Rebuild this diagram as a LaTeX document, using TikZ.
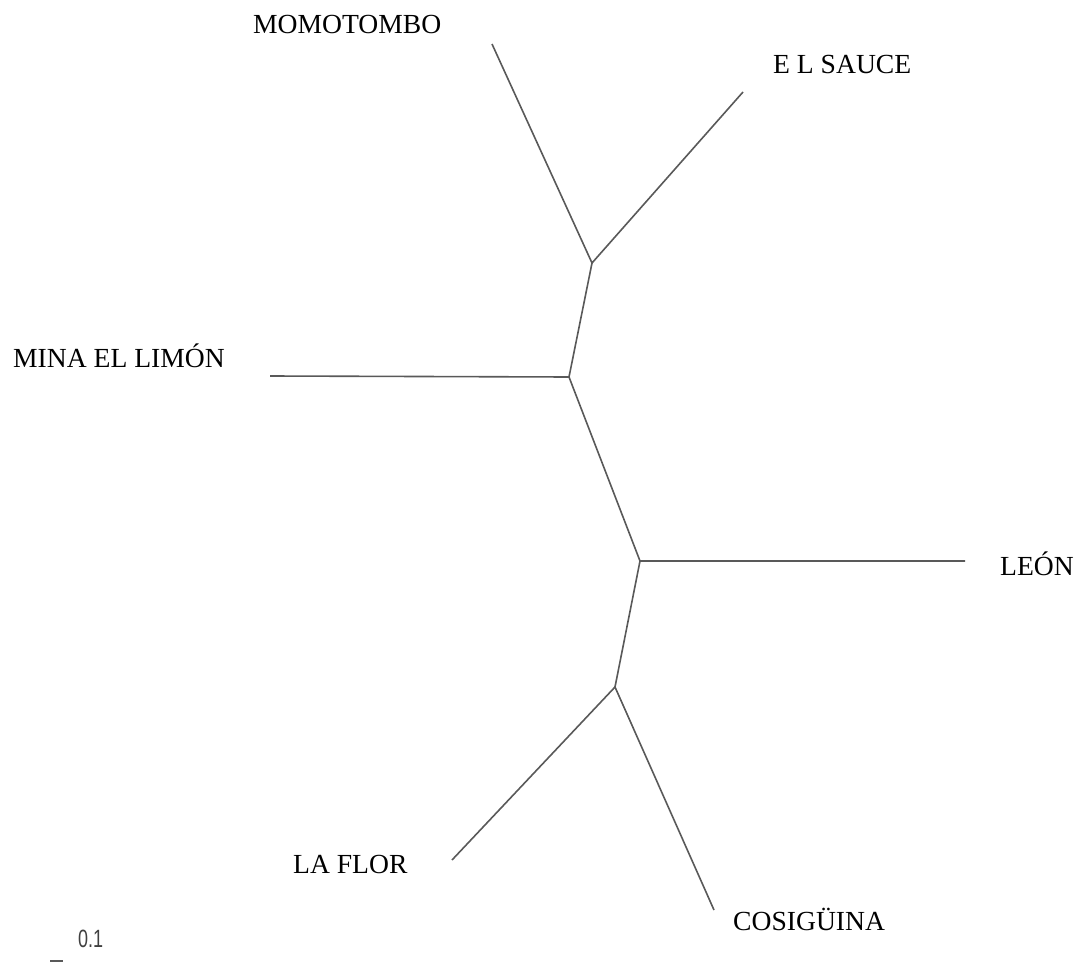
\documentclass[tikz,border=0pt]{standalone}
\usepackage{fontspec}
\setmainfont{Liberation Serif}
\newfontfamily\barfont{Liberation Sans}
\begin{document}
\begin{tikzpicture}[x=1pt,y=-1pt,
    branch/.style={draw=black!65, line width=1.6pt},
    taxon/.style={anchor=base west, inner sep=0pt, font=\fontsize{27.6}{33}\selectfont}]
    \useasboundingbox (0,0) rectangle (1078,968);

    % Internal nodes
    \coordinate (top) at (592,263);
    \coordinate (mid) at (569,377);
    \coordinate (hub) at (640,561);
    \coordinate (low) at (615,687);

    % Leaf ends
    \coordinate (momotombo) at (492,44);
    \coordinate (elsauce) at (743,92);
    \coordinate (mina) at (270,376);
    \coordinate (leon) at (965,561);
    \coordinate (laflor) at (452,860);
    \coordinate (cosiguina) at (714,910);

    % Labels
    \node[taxon] (lmomotombo) at (253,34) {MOMOTOMBO};
    \node[taxon] (lelsauce) at (773,74) {E L SAUCE};
    \node[taxon] (lmina) at (13,367) {MINA EL LIMÓN};
    \node[taxon] (lleon) at (1000,575) {LEÓN};
    \node[taxon] (llaflor) at (293,873) {LA FLOR};
    \node[taxon] (lcosiguina) at (733,930) {COSIGÜINA};

    % Branches
    \draw[branch] (momotombo) -- (top) -- (elsauce);
    \draw[branch] (top) -- (mid) -- (mina);
    \draw[branch] (mid) -- (hub) -- (leon);
    \draw[branch] (hub) -- (low);
    \draw[branch] (laflor) -- (low) -- (cosiguina);

    % Scale bar
    \coordinate (barleft) at (50,961);
    \coordinate (barright) at (63,961);
    \draw[branch] (barleft) -- (barright);
    \node[anchor=base west, inner sep=0pt, text=black!75, xscale=0.72,
        font=\barfont\fontsize{25}{30}\selectfont] (barlabel) at (78,947) {0.1};
\end{tikzpicture}
\end{document}
